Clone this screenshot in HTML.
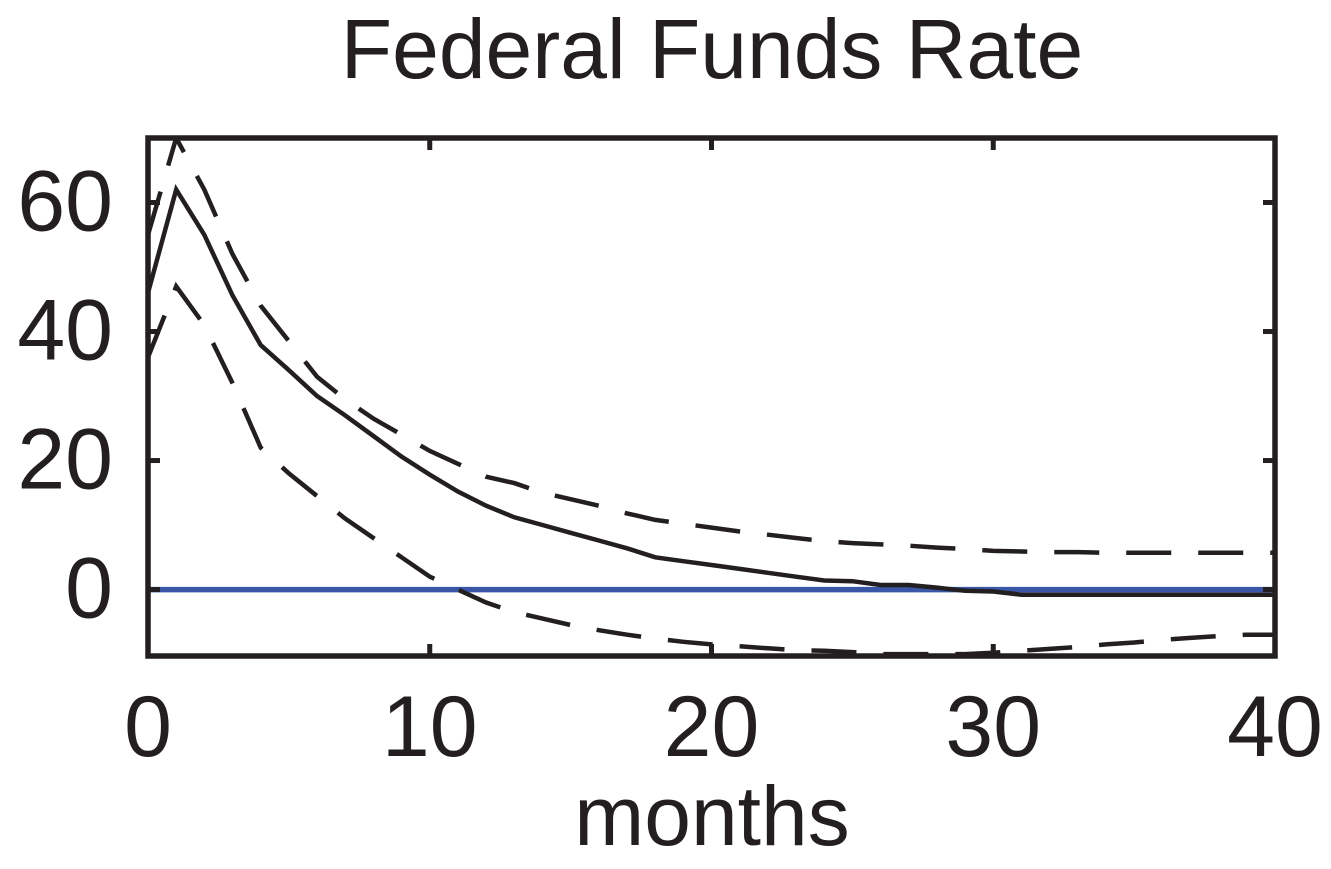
<!DOCTYPE html>
<html><head><meta charset="utf-8"><style>
html,body{margin:0;padding:0;background:#fff;}
svg{display:block;font-family:"Liberation Sans",Arial,sans-serif;}
</style></head><body>
<svg id="chart" width="1331" height="869" viewBox="0 0 1331 869">
<defs><clipPath id="clip"><rect x="148" y="138" width="1127" height="518"/></clipPath></defs>
<text x="712" y="78" text-anchor="middle" font-size="84" fill="#231f20">Federal Funds Rate</text>
<g id="series" clip-path="url(#clip)"></g>
<g id="axes"></g>
<text x="712" y="845" text-anchor="middle" font-size="84" fill="#231f20">months</text>
</svg>
<script>
const months = [0,1,2,3,4,5,6,7,8,9,10,11,12,13,14,15,16,17,18,19,20,21,22,23,24,25,26,27,28,29,30,31,32,33,34,35,36,37,38,39,40];
const median = [46,62,55,45.6,37.9,34,30,27,23.8,20.6,17.8,15.2,13,11.2,10,8.8,7.6,6.4,5,4.4,3.8,3.2,2.6,2,1.4,1.3,0.7,0.7,0.3,-0.2,-0.3,-0.8,-0.8,-0.8,-0.8,-0.8,-0.8,-0.8,-0.8,-0.8,-0.8];
const upper = [55,70,62,52,44,38.5,33,29.5,26.5,24,21.5,19.5,17.5,16.5,15,14,13,11.8,10.8,10.2,9.6,9,8.5,8,7.5,7.2,7,6.8,6.5,6.3,6,5.9,5.8,5.8,5.7,5.7,5.7,5.7,5.7,5.7,5.7];
const lower = [36,47,41,32,22,18,14.5,11,8,5,2,0,-2,-3.5,-4.5,-5.5,-6.3,-7,-7.6,-8.1,-8.5,-8.8,-9.1,-9.4,-9.5,-9.7,-10,-10,-10,-10,-9.8,-9.5,-9.2,-8.9,-8.5,-8.2,-7.8,-7.5,-7.2,-7,-7];
const baseline = [0,0];
const xTicks = [0,10,20,30,40];
const yTicks = [0,20,40,60];
const xLabels = ["0","10","20","30","40"];
const yLabels = ["0","20","40","60"];

const L=148,R=1275,T=138,B=656;
const xMin=0,xMax=40,yMin=-10.3,yMax=70;
const xs=v=>L+(v-xMin)/(xMax-xMin)*(R-L);
const ys=v=>B-(v-yMin)/(yMax-yMin)*(B-T);
const NS="http://www.w3.org/2000/svg";
const ser=document.getElementById('series'), ax=document.getElementById('axes');

function path(vals,xv,name,stroke,dash,w){
  const p=document.createElementNS(NS,'path');
  p.setAttribute('d',vals.map((v,i)=>(i?'L':'M')+xs(xv[i]).toFixed(1)+','+ys(v).toFixed(1)).join(''));
  p.setAttribute('fill','none');p.setAttribute('stroke',stroke);p.setAttribute('stroke-width',w);
  if(dash)p.setAttribute('stroke-dasharray',dash);
  
  
  ser.appendChild(p);
}
path(baseline,[xMin,xMax],'zero-line','#3a56a6',null,5.5);
path(upper,months,'upper-bound-line','#231f20','45,27',4.5);
path(lower,months,'lower-bound-line','#231f20','45,27',4.5);
path(median,months,'median-response-line','#231f20',null,4.5);

const frame=document.createElementNS(NS,'rect');
frame.setAttribute('x',L);frame.setAttribute('y',T);frame.setAttribute('width',R-L);frame.setAttribute('height',B-T);
frame.setAttribute('fill','none');frame.setAttribute('stroke','#231f20');frame.setAttribute('stroke-width',5.5);


ax.appendChild(frame);

function line(x1,y1,x2,y2,name){
  const l=document.createElementNS(NS,'line');
  l.setAttribute('x1',x1);l.setAttribute('y1',y1);l.setAttribute('x2',x2);l.setAttribute('y2',y2);
  l.setAttribute('stroke','#231f20');l.setAttribute('stroke-width',5);
  
  
  ax.appendChild(l);
}
function text(x,y,s,anchor,name){
  const t=document.createElementNS(NS,'text');
  t.setAttribute('x',x);t.setAttribute('y',y);t.setAttribute('text-anchor',anchor);
  t.setAttribute('font-size',86);t.setAttribute('fill','#231f20');t.textContent=s;
  
  
  ax.appendChild(t);
}
xTicks.forEach((v,i)=>{
  const x=xs(v);
  line(x,B,x,B-12,'x-tick');line(x,T,x,T+12,'x-tick-top');
  text(x,756,xLabels[i],'middle','x-tick-label');
});
yTicks.forEach((v,i)=>{
  const y=ys(v);
  line(L,y,L+12,y,'y-tick');line(R,y,R-12,y,'y-tick-right');
  text(113,y+28,yLabels[i],'end','y-tick-label');
});
</script>
</body></html>
